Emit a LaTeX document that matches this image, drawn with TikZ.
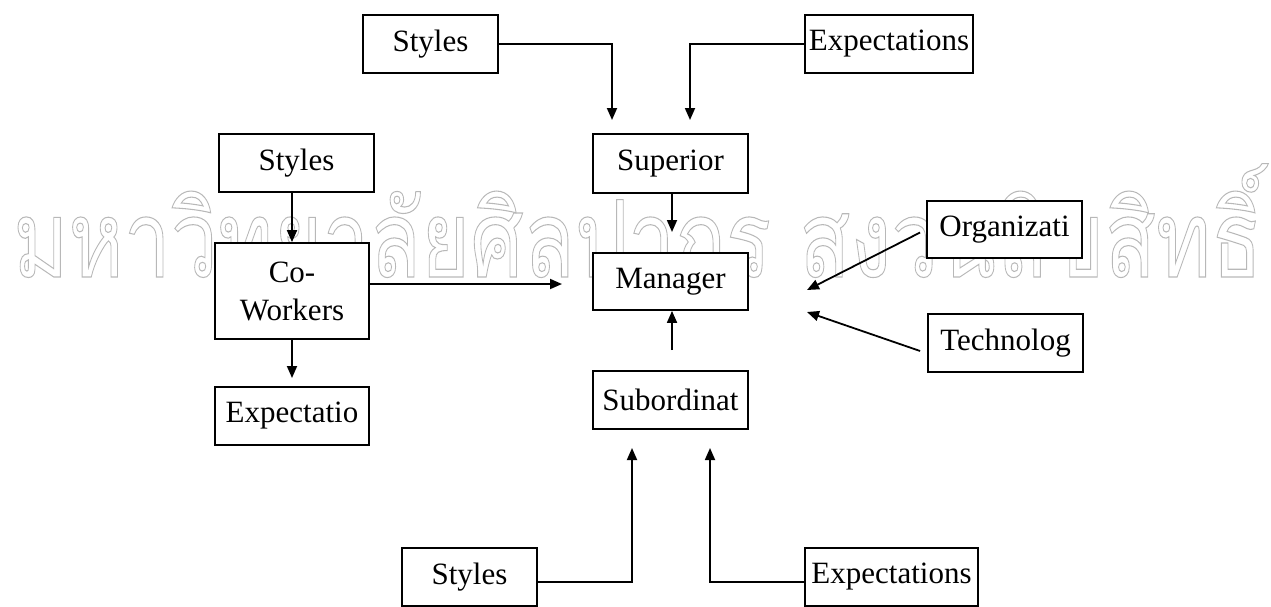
\documentclass[tikz,border=0pt]{standalone}
\usepackage{fontspec}
\setmainfont{Liberation Serif}
\newfontfamily\thaifont[Script=Thai]{Loma}
\usetikzlibrary{arrows.meta}
\begin{document}
\begin{tikzpicture}[x=1pt,y=-1pt,
  box/.style={draw, line width=1.8pt, fill=white, font=\fontsize{31}{38}\selectfont, inner sep=0pt, align=center},
  conn/.style={line width=1.8pt},
  arr/.style={conn, -{Triangle[length=12pt,width=10pt]}}]
\useasboundingbox (0,0) rectangle (1271,606);
% watermark
\node[anchor=base west, inner sep=0pt] (wm) at (13,277) {\resizebox*{1249pt}{114pt}{\fontsize{90}{90}\thaifont\special{pdf:literal q 1 Tr 0.9 w 0.72 G}มหาวิทยาลัยศิลปากร สงวนลิขสิทธิ์\special{pdf:literal Q}}};
% boxes
\node[box, minimum width=135pt, minimum height=58pt] (s1) at (430.5,44) {Styles};
\node[box, minimum width=168pt, minimum height=58pt] (e1) at (889,44) {Expectations};
\node[box, minimum width=155pt, minimum height=59pt] (sup) at (670.5,163.5) {Superior};
\node[box, minimum width=155pt, minimum height=57pt] (man) at (670.5,281.5) {Manager};
\node[box, minimum width=155pt, minimum height=58pt] (sub) at (670.5,400) {Subordinat};
\node[box, minimum width=155pt, minimum height=58pt] (s2) at (296.5,163) {Styles};
\node[box, minimum width=154pt, minimum height=96pt] (cw) at (292,291) {Co-\\Workers};
\node[box, minimum width=154pt, minimum height=58pt] (ex2) at (292,416) {Expectatio};
\node[box, minimum width=155pt, minimum height=57pt] (org) at (1004.5,229.5) {Organizati};
\node[box, minimum width=155pt, minimum height=58pt] (tech) at (1005.5,343) {Technolog};
\node[box, minimum width=135pt, minimum height=58pt] (s3) at (469.5,577) {Styles};
\node[box, minimum width=173pt, minimum height=58pt] (e3) at (891.5,577) {Expectations};
% free ends
\coordinate (t1) at (612,120);
\coordinate (t2) at (690,120);
\coordinate (t3) at (672,232);
\coordinate (b1) at (672,350);
\coordinate (t4) at (292,378);
\coordinate (t5) at (562,284);
\coordinate (t6) at (807,290);
\coordinate (t9) at (807,312);
\coordinate (t7) at (632,448);
\coordinate (t8) at (710,448);
% connectors
\draw[arr] (s1.east) -| (t1);
\draw[arr] (e1.west) -| (t2);
\draw[arr] (sup.south -| t3) -- (t3);
\draw[arr] (b1) -- (man.south -| b1);
\draw[arr] (s2.south -| cw.north) -- (cw.north);
\draw[arr] (cw.south) -- (t4);
\draw[arr] (cw.east |- t5) -- (t5);
\draw[arr] ([xshift=-6pt,yshift=-3pt]org.west) -- (t6);
\draw[arr] ([xshift=-7pt,yshift=-8pt]tech.west) -- (t9);
\draw[arr] ([yshift=-5pt]s3.east) -| (t7);
\draw[arr] ([yshift=-5pt]e3.west) -| (t8);
\end{tikzpicture}
\end{document}
